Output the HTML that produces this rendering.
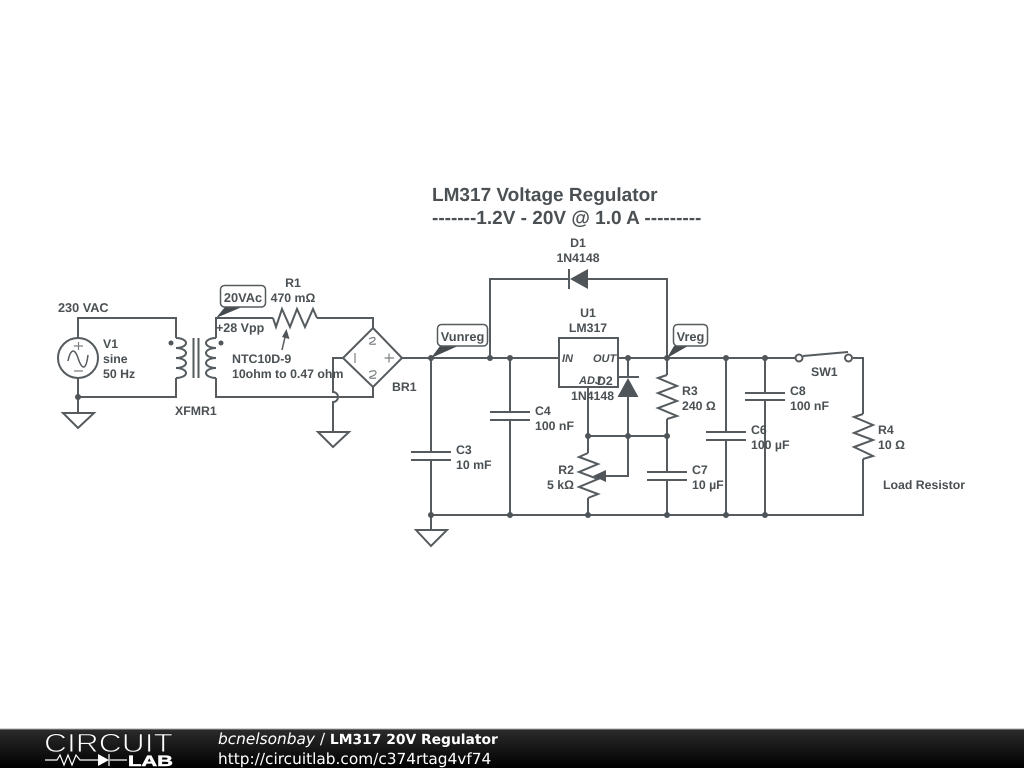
<!DOCTYPE html>
<html><head><meta charset="utf-8"><title>LM317 20V Regulator</title>
<style>
html,body{margin:0;padding:0;background:#fff;width:1024px;height:768px;overflow:hidden}
svg{display:block;position:absolute;left:0;top:0;filter:blur(0.35px)}
.w{fill:none;stroke:#555b5e;stroke-width:2;stroke-linejoin:miter}
.g{fill:none;stroke:#7b8082;stroke-width:1.200}
.t{fill:#4f5558;stroke:none}
text{font-family:"Liberation Sans",sans-serif;font-weight:bold;font-size:12.300px;fill:#4a5053;text-rendering:geometricPrecision}
.m{text-anchor:middle}
.e{text-anchor:end}
.title{font-size:19px}
.tag{font-size:12.800px}
.it{font-style:italic;font-size:11px;font-weight:bold}
.f{font-family:"DejaVu Sans",sans-serif;font-size:15.350px;fill:#fff;font-weight:normal}
</style></head><body>
<svg width="1024" height="768" viewBox="0 0 1024 768" xmlns="http://www.w3.org/2000/svg">
<defs><linearGradient id="fg" x1="0" y1="0" x2="0" y2="1"><stop offset="0" stop-color="#2c2c2c"/><stop offset="1" stop-color="#000"/></linearGradient></defs>
<rect width="1024" height="768" fill="#fff"/>

<text class="title" x="432" y="201">LM317 Voltage Regulator</text>
<text class="title" x="432" y="224">-------1.2V - 20V @ 1.0 A ---------</text>

<!-- wires -->
<path class="w" d="M78 338V318H176V338M176 378V397H78M78 378V413"/>
<path class="w" d="M216 338V318H273M317 318H373V328M216 378V397H373V387"/>
<path class="w" d="M343 358H333V392A5 5 0 0 1 333 402V432"/>
<path class="w" d="M402 358H559M618 358H795M853 358H863V414M863 459V515H431V530"/>
<path class="w" d="M431 358V452M431 460V515M510 358V412M510 420V515"/>
<path class="w" d="M490 358V279H569M588 279H667V358"/>
<path class="w" d="M628 358V377M628 397V476H605M588 387V453M588 498V515M588 436H667"/>
<path class="w" d="M667 358V375M667 419V472M667 480V515M726 358V432M726 440V515M765 358V393M765 400V515"/>

<!-- V1 -->
<circle class="w" cx="78" cy="358" r="20"/>
<path class="w" style="stroke-width:1.500" d="M68 361C70 351 74 346 78 358S86 371 88 355"/>
<path class="g" d="M74 346H83M78.500 342V350M74 371H83"/>
<path class="w" d="M63 413H94L78 428Z"/>

<!-- transformer -->
<path class="w" d="M176 338A10 5 0 0 1 176 348A10 5 0 0 1 176 358A10 5 0 0 1 176 368A10 5 0 0 1 176 378"/>
<path class="w" d="M216 338A10 5 0 0 0 216 348A10 5 0 0 0 216 358A10 5 0 0 0 216 368A10 5 0 0 0 216 378"/>
<path class="w" d="M193.500 338V378M198.500 338V378"/>
<circle class="t" cx="171" cy="343" r="2.500"/>
<circle class="t" cx="221" cy="343" r="2.500"/>

<!-- R1 -->
<path class="w" d="M273 318L276 327L282 309L290 327L297 309L305 327L313 309L317 318"/>
<path class="w" style="stroke-width:1.500" d="M282 350L285.500 335"/>
<path class="t" d="M286.500 329L289.500 339L282 337Z"/>

<!-- bridge -->
<path class="w" d="M373 328L402 358L373 387L343 358Z"/>
<path class="g" d="M355 353V363M384.500 358H394M389 353.500V362.500"/>
<path class="g" d="M369 339Q375 336 375 339Q375 341 370 343Q368 345 376 344M369 372Q376 369 376 373Q376 375 370 377Q368 379 376 378"/>
<path class="w" d="M318 432H349L333 447Z"/>

<!-- caps -->
<path class="w" d="M411 452H451M411 460H451"/>
<path class="w" d="M490 412H530M490 420H530"/>
<path class="w" d="M647 472H687M647 480H687"/>
<path class="w" d="M706 432H746M706 440H746"/>
<path class="w" d="M745 393H785M745 400H785"/>
<path class="w" d="M416 530H447L431 546Z"/>

<!-- D1 -->
<path class="w" d="M569 269V289"/>
<path class="t" d="M570 279L588 269V289Z"/>

<!-- U1 -->
<rect class="w" x="559" y="338" width="59" height="49"/>

<!-- D2 -->
<path class="w" d="M617 377H639"/>
<path class="t" d="M628 378L617.500 397H638.500Z"/>

<!-- R2 -->
<path class="w" d="M588 453L579 457L598 464L579 472L598 479L579 487L598 494L588 498"/>
<path class="t" d="M593 476L606 470V482Z"/>

<!-- R3 -->
<path class="w" d="M667 375L658 378L677 386L658 393L677 401L658 408L677 416L667 419"/>

<!-- R4 -->
<path class="w" d="M863 414L854 417L873 425L854 433L873 440L854 447L873 456L863 459"/>

<!-- switch -->
<circle class="w" cx="799" cy="358" r="3.500" style="fill:#fff"/>
<circle class="w" cx="848.500" cy="358" r="3.500" style="fill:#fff"/>
<path class="w" d="M803 356L848 352"/>

<!-- junctions -->
<g class="t">
<circle cx="78" cy="397" r="3"/><circle cx="431" cy="358" r="3"/><circle cx="490" cy="358" r="3"/><circle cx="510" cy="358" r="3"/><circle cx="628" cy="358" r="3"/><circle cx="667" cy="358" r="3"/><circle cx="726" cy="358" r="3"/><circle cx="765" cy="358" r="3"/>
<circle cx="588" cy="436" r="3"/><circle cx="628" cy="436" r="3"/><circle cx="667" cy="436" r="3"/>
<circle cx="431" cy="515" r="3"/><circle cx="510" cy="515" r="3"/><circle cx="588" cy="515" r="3"/><circle cx="667" cy="515" r="3"/><circle cx="726" cy="515" r="3"/><circle cx="765" cy="515" r="3"/>
</g>

<!-- tags -->
<path fill="#454b4e" d="M216 318L225 307H242Z"/>
<rect x="220.500" y="285.500" width="45" height="21.500" rx="4" fill="#fff" stroke="#555b5e" stroke-width="1.500"/>
<text class="m tag" x="243" y="302">20VAc</text>
<path fill="#454b4e" d="M431 358L440 346H458Z"/>
<rect x="437.500" y="324.500" width="50" height="21.500" rx="4" fill="#fff" stroke="#555b5e" stroke-width="1.500"/>
<text class="m tag" x="462.500" y="341">Vunreg</text>
<path fill="#454b4e" d="M667 358L674 346H688Z"/>
<rect x="673.500" y="324.500" width="34" height="21.500" rx="4" fill="#fff" stroke="#555b5e" stroke-width="1.500"/>
<text class="m tag" x="690.500" y="341">Vreg</text>

<!-- labels -->
<text x="58" y="312" style="font-size:12.700px">230 VAC</text>
<text x="103" y="348">V1</text>
<text x="103" y="363">sine</text>
<text x="103" y="378">50 Hz</text>
<text x="175" y="415">XFMR1</text>
<text class="m" x="293" y="287">R1</text>
<text class="m" x="293" y="302">470 mΩ</text>
<text x="216" y="332" style="font-size:12.500px">+28 Vpp</text>
<text x="232" y="363" style="font-size:12.400px">NTC10D-9</text>
<text x="232" y="378">10ohm to 0.47 ohm</text>
<text x="392" y="391">BR1</text>
<text x="456" y="454">C3</text>
<text x="456" y="469">10 mF</text>
<text x="535" y="415">C4</text>
<text x="535" y="430">100 nF</text>
<text class="m" x="578" y="247">D1</text>
<text class="m" x="578" y="262">1N4148</text>
<text class="m" x="588" y="317">U1</text>
<text class="m" x="588" y="332">LM317</text>
<text class="it" x="562" y="362">IN</text>
<text class="it" x="593" y="362">OUT</text>
<text class="it" x="579" y="384">ADJ</text>
<text x="597" y="385">D2</text>
<text x="571" y="400">1N4148</text>
<text x="682" y="395">R3</text>
<text x="682" y="410">240 Ω</text>
<text class="e" x="574" y="474">R2</text>
<text class="e" x="574" y="489">5 kΩ</text>
<text x="692" y="474">C7</text>
<text x="692" y="489">10 µF</text>
<text x="751" y="434">C6</text>
<text x="751" y="449">100 µF</text>
<text x="790" y="395">C8</text>
<text x="790" y="410">100 nF</text>
<text x="811" y="376">SW1</text>
<text x="878" y="434">R4</text>
<text x="878" y="449">10 Ω</text>
<text x="883" y="489">Load Resistor</text>

<!-- footer -->
<rect x="0" y="729" width="1024" height="39" fill="url(#fg)"/>
<rect x="0" y="728.500" width="1024" height="1" fill="#aaa"/>
<text x="44" y="752" style="font-size:26.500px;font-weight:normal;fill:#fff;stroke:#1c1c1c;stroke-width:0.900px" textLength="129" lengthAdjust="spacingAndGlyphs">CIRCUIT</text>
<path fill="none" stroke="#fff" stroke-width="1.200" d="M45 760H57L60 755L64 765L68 755L72 765L76 755L80 760H98M110 760H127M109 754V766"/>
<path fill="#fff" d="M98 754L109 760L98 766Z"/>
<text x="128" y="766" style="font-size:15px;font-weight:bold;fill:#fff;stroke:#fff;stroke-width:0.500px" textLength="45" lengthAdjust="spacingAndGlyphs">LAB</text>
<text class="f" x="218" y="744"><tspan font-style="italic">bcnelsonbay</tspan> / <tspan font-weight="bold" font-size="13.850">LM317 20V Regulator</tspan></text>
<text class="f" x="218" y="764">http://circuitlab.com/c374rtag4vf74</text>
</svg>
</body></html>
